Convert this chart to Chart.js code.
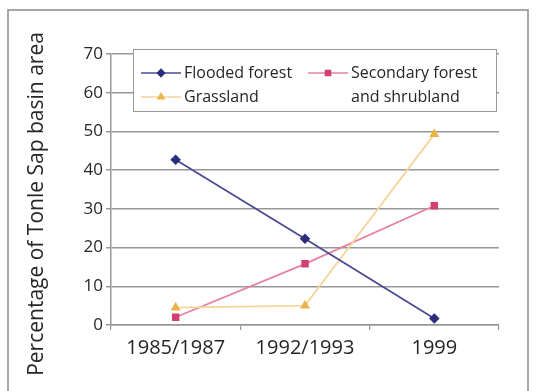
<!DOCTYPE html>
<html>
<head>
<meta charset="utf-8">
<script src="https://cdn.jsdelivr.net/npm/chart.js@4/dist/chart.umd.min.js"></script>
<style>
  html, body { margin: 0; padding: 0; background: #ffffff; }
  #wrap { width: 536px; height: 391px; position: relative; }
</style>
</head>
<body>
<div id="wrap"><canvas id="c" width="536" height="391"></canvas></div>
<script>
// Land cover share of the Tonle Sap basin, by survey period
const categories = ['1985/1987', '1992/1993', '1999'];
const floodedForest = [42.7, 22.3, 1.7];
const grassland = [4.5, 5.0, 49.3];
const secondaryForest = [2.0, 15.8, 30.8];
const yTickValues = [0, 10, 20, 30, 40, 50, 60, 70];

const axisTitle = 'Percentage of Tonle Sap basin area';
const FONT = '"Open Sans", "DejaVu Sans", sans-serif';
const TEXT = '#262626';
const GRID = '#979797';

const series = [
  { label: 'Flooded forest', data: floodedForest, line: '#4b4b94', point: '#2d2d7e', style: 'rectRot' },
  { label: 'Grassland', data: grassland, line: '#f6d49a', point: '#ebb44a', style: 'triangle' },
  { label: ['Secondary forest', 'and shrubland'], data: secondaryForest, line: '#e8809f', point: '#d2406e', style: 'rect' }
];

// Frame around the whole figure
const framePlugin = {
  id: 'frame',
  beforeDraw(chart) {
    const ctx = chart.ctx;
    ctx.save();
    ctx.fillStyle = '#ffffff';
    ctx.fillRect(0, 0, chart.width, chart.height);
    ctx.strokeStyle = '#8a8a8a';
    ctx.lineWidth = 1.5;
    ctx.strokeRect(8, 10, 520, 400);
    ctx.restore();
  }
};

// Rotated y-axis title, placed a little lower than the plot centre
const yTitlePlugin = {
  id: 'yTitle',
  afterDraw(chart) {
    const ctx = chart.ctx;
    ctx.save();
    ctx.translate(37, 204);
    ctx.rotate(-Math.PI / 2);
    ctx.font = '21px ' + FONT;
    ctx.fillStyle = TEXT;
    ctx.textAlign = 'center';
    ctx.textBaseline = 'middle';
    ctx.fillText(axisTitle, 0, 0);
    ctx.restore();
  }
};

function drawMarker(ctx, style, x, y, color, r) {
  ctx.save();
  ctx.fillStyle = color;
  ctx.strokeStyle = color;
  Chart.helpers.drawPoint(ctx, { pointStyle: style, radius: r, borderWidth: 1 }, x, y);
  ctx.restore();
}

// Boxed two-column legend inside the top of the plot
const boxLegendPlugin = {
  id: 'boxLegend',
  afterDraw(chart) {
    const ctx = chart.ctx;
    const ca = chart.chartArea;
    const left = ca.left + 22, top = ca.top - 5;
    const w = ca.right - 3 - left, h = 62;
    ctx.save();
    ctx.fillStyle = '#ffffff';
    ctx.fillRect(left, top, w, h);
    ctx.strokeStyle = '#9a9a9a';
    ctx.lineWidth = 1;
    ctx.strokeRect(left + 0.5, top + 0.5, w, h);

    const rows = [top + 24, top + 48];
    const cols = [left + 8, left + 175];
    const place = [[cols[0], rows[0]], [cols[0], rows[1]], [cols[1], rows[0]]];
    ctx.font = '16px ' + FONT;
    ctx.textBaseline = 'middle';
    ctx.textAlign = 'left';
    series.forEach((s, i) => {
      const [x, y] = place[i];
      ctx.strokeStyle = s.line;
      ctx.lineWidth = 1.6;
      ctx.beginPath();
      ctx.moveTo(x, y);
      ctx.lineTo(x + 40, y);
      ctx.stroke();
      drawMarker(ctx, s.style, x + 20, y, s.point, 3.5);
      ctx.fillStyle = TEXT;
      const lines = Array.isArray(s.label) ? s.label : [s.label];
      lines.forEach((t, k) => ctx.fillText(t, x + 43, y + k * 24));
    });
    ctx.restore();
  }
};

new Chart(document.getElementById('c'), {
  type: 'line',
  data: {
    labels: categories,
    datasets: series.map(s => ({
      label: Array.isArray(s.label) ? s.label.join(' ') : s.label,
      data: s.data,
      borderColor: s.line,
      backgroundColor: s.point,
      pointBackgroundColor: s.point,
      pointBorderColor: s.point,
      pointStyle: s.style,
      pointRadius: 4,
      borderWidth: 1.8,
      tension: 0,
      fill: false
    }))
  },
  options: {
    responsive: false,
    animation: false,
    devicePixelRatio: 1,
    layout: { padding: { left: 0, top: 54, right: 37, bottom: 0 } },
    plugins: {
      legend: { display: false },
      tooltip: { enabled: false },
      title: { display: false }
    },
    scales: {
      x: {
        type: 'category',
        offset: true,
        afterFit(scale) { scale.height = 66; },
        grid: {
          offset: true,
          drawOnChartArea: false,
          drawTicks: true,
          tickLength: 5,
          color: GRID,
          lineWidth: 1.2
        },
        border: { display: true, color: GRID, width: 1.5 },
        ticks: {
          color: TEXT,
          font: { family: FONT, size: 20 },
          padding: 6,
          maxRotation: 0
        }
      },
      y: {
        min: 0,
        max: 70,
        afterFit(scale) { scale.width = 111; },
        afterBuildTicks(scale) { scale.ticks = yTickValues.map(v => ({ value: v })); },
        grid: {
          drawTicks: true,
          tickLength: 5,
          color: GRID,
          lineWidth: 1.5
        },
        border: { display: true, color: GRID, width: 1.5 },
        ticks: {
          color: TEXT,
          font: { family: FONT, size: 17 },
          padding: 3
        }
      }
    }
  },
  plugins: [framePlugin, yTitlePlugin, boxLegendPlugin]
});
</script>
</body>
</html>
